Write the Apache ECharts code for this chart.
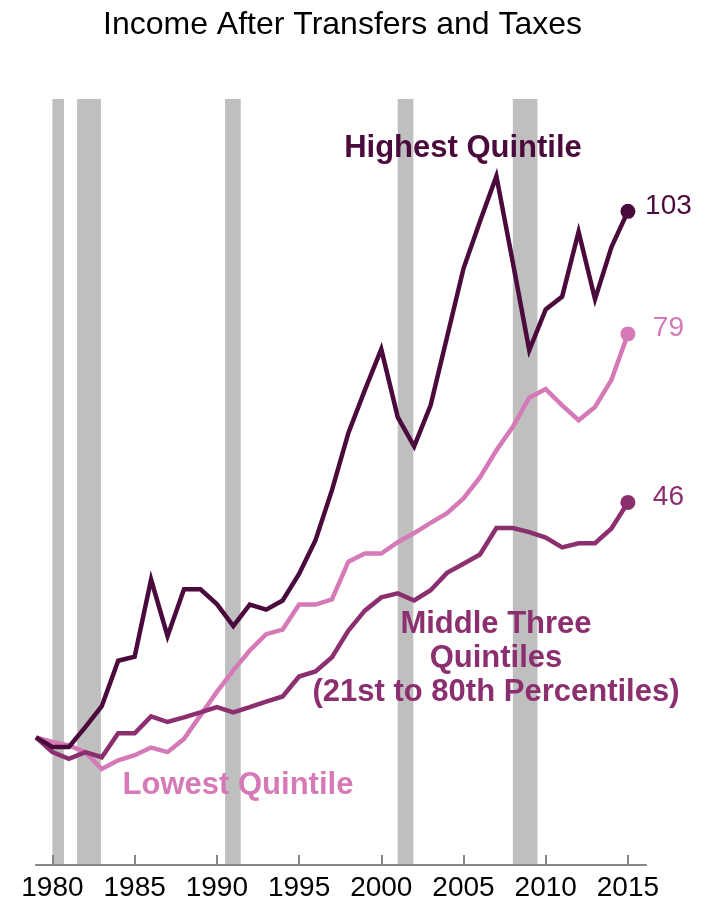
<!DOCTYPE html>
<html>
<head>
<meta charset="utf-8">
<script src="https://cdn.jsdelivr.net/npm/echarts@6/dist/echarts.min.js"></script>
<style>
html,body{margin:0;padding:0;background:#fff;}
#chart{width:712px;height:908px;}
</style>
</head>
<body>
<div id="chart"></div>
<script>
const years = [1979,1980,1981,1982,1983,1984,1985,1986,1987,1988,1989,1990,1991,1992,1993,1994,1995,1996,1997,1998,1999,2000,2001,2002,2003,2004,2005,2006,2007,2008,2009,2010,2011,2012,2013,2014,2015];
const highest = [0,-1.9,-1.9,2,6.1,15,15.8,30.9,19.8,29,29,26.1,21.8,26,25,26.8,32,38.6,48.4,59.6,68,76,62.7,57,65,78.4,91.8,101,109.9,93,75.8,83.8,86.3,99,85.8,96,103];
const lowest = [0,-0.9,-1.6,-2.9,-6.2,-4.5,-3.5,-2,-2.9,-0.3,4.3,8.9,13.1,17,20.2,21.1,26,26,27,34.4,36,36,38.2,40,42,43.9,46.8,50.9,56.2,60.8,66.5,68.2,65,62.1,64.7,70,79];
const middle = [0,-2.9,-4.2,-2.9,-3.9,0.8,0.8,4.1,3,3.9,4.9,5.9,4.9,5.9,7,8,11.9,12.9,15.7,20.9,24.8,27.4,28.2,26.8,28.8,32.2,34,35.8,41,41,40.2,39.1,37.2,38,38,40.9,46];
const tickYears = [1980,1985,1990,1995,2000,2005,2010,2015];
const recessions = [[1980.0,1980.7],[1981.5,1982.95],[1990.5,1991.45],[2001.0,2001.95],[2008.0,2009.5]];
const endLabels = ['103','79','46'];

const FONT = "'Liberation Sans', Arial, sans-serif";
const cHigh = '#4b0a3c', cLow = '#d57ab6', cMid = '#8b2f6f';

function pairs(vals){ return years.map((y,i)=>[y, vals[i]]); }
function lineSeries(name, vals, color){
  return {name, type:'line', data:pairs(vals), symbol:'none', z:3,
    lineStyle:{color, width:4.5, join:'miter'}, itemStyle:{color}};
}
function endDot(vals, color, label){
  const last = vals.length-1;
  return {type:'scatter', z:4, symbolSize:15, itemStyle:{color, opacity:1},
    data:[[years[last], vals[last]]],
    label:{show:true, formatter:label, position:[48,2], align:'center', verticalAlign:'middle',
      fontFamily:FONT, fontSize:28, color, opacity:1}};
}

const chart = echarts.init(document.getElementById('chart'), null, {renderer:'canvas'});
chart.setOption({
  animation:false,
  backgroundColor:'#fff',
  title:{text:'Income After Transfers and Taxes', left:98, top:4,
    textStyle:{fontFamily:FONT, fontSize:32, fontWeight:'normal', color:'#000'}},
  grid:{left:36, right:66, top:99, bottom:43},
  xAxis:{type:'value', min:1979, max:2016.1, z:5,
    axisLine:{onZero:false, lineStyle:{color:'#868686', width:2}},
    axisTick:{show:true, inside:true, length:10, customValues:tickYears, lineStyle:{color:'#868686', width:2}},
    axisLabel:{customValues:tickYears, formatter:v=>String(v), fontFamily:FONT, fontSize:28, color:'#000', margin:9},
    splitLine:{show:false}},
  yAxis:{type:'value', min:-25, max:125, show:false},
  series:[
    {type:'line', data:[], z:1, markArea:{silent:true, itemStyle:{color:'#bfbfbf'},
      data:recessions.map(r=>[{xAxis:r[0]},{xAxis:r[1]}])}},
    lineSeries('Lowest Quintile', lowest, cLow),
    lineSeries('Middle Three Quintiles', middle, cMid),
    lineSeries('Highest Quintile', highest, cHigh),
    endDot(highest, cHigh, endLabels[0]),
    endDot(lowest, cLow, endLabels[1]),
    endDot(middle, cMid, endLabels[2])
  ],
  graphic:[
    {type:'text', x:463, y:148, z:10, style:{text:'Highest Quintile', fontFamily:FONT, fontSize:31, fontWeight:'bold', fill:cHigh, align:'center', verticalAlign:'middle'}},
    {type:'text', x:496, y:658, z:10, style:{text:'Middle Three\nQuintiles\n(21st to 80th Percentiles)', fontFamily:FONT, fontSize:31, fontWeight:'bold', lineHeight:34, fill:cMid, align:'center', verticalAlign:'middle'}},
    {type:'text', x:238, y:785, z:10, style:{text:'Lowest Quintile', fontFamily:FONT, fontSize:31, fontWeight:'bold', fill:cLow, align:'center', verticalAlign:'middle'}}
  ]
});
</script>
</body>
</html>
